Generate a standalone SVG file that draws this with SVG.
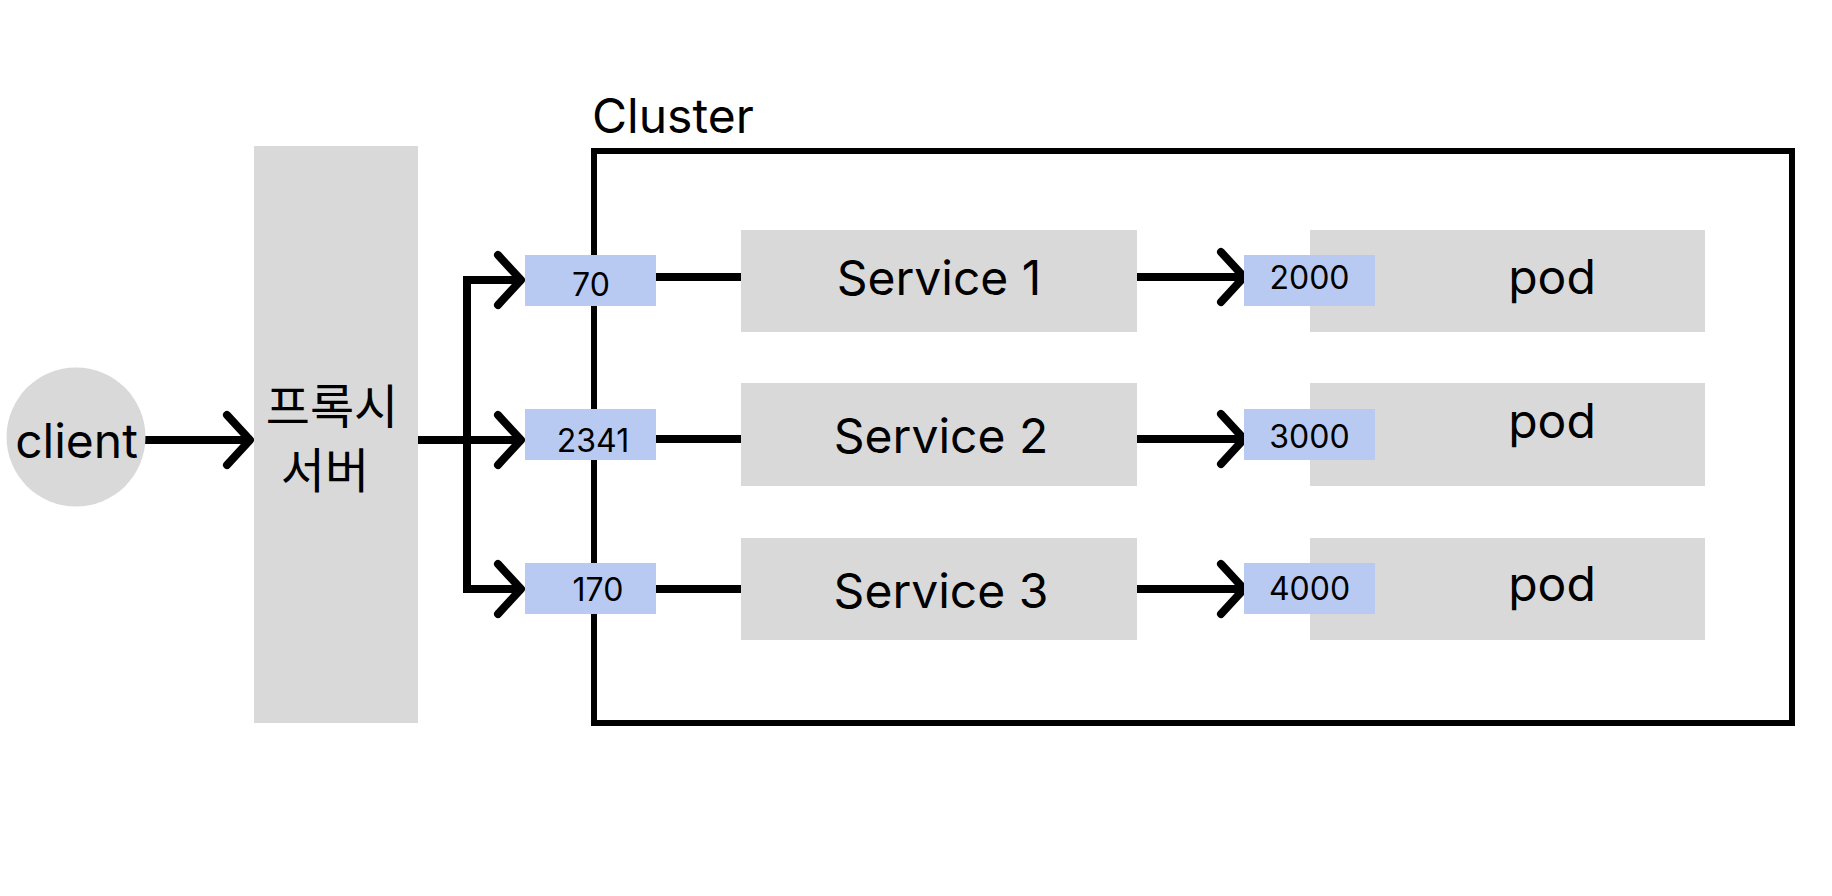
<svg xmlns="http://www.w3.org/2000/svg" width="1832" height="896" viewBox="0 0 1832 896">
  <style>
    .box { fill: #d9d9d9; }
    .port { fill: #b9caf2; }
    .lbl { font-family: Inter, "Noto Sans", "Noto Sans CJK KR", sans-serif; font-size: 48px; fill: #000; text-anchor: middle; }
    .kr { font-family: "Noto Sans CJK KR", "Noto Sans", sans-serif; font-size: 48px; fill: #000; text-anchor: middle; }
    .num { font-family: Inter, "Noto Sans", sans-serif; font-size: 32px; fill: #000; text-anchor: middle; }
    .edge { fill: none; stroke: #000; stroke-width: 8; }
    .frame { fill: none; stroke: #000; stroke-width: 6; }
  </style>
  <defs>
    <marker id="chev" markerUnits="userSpaceOnUse" viewBox="-34 -34 44 68" markerWidth="44" markerHeight="68" refX="0" refY="0" orient="auto" overflow="visible">
      <path d="M -23 -25 L 0 0 L -23 25" fill="none" stroke="#000" stroke-width="8" stroke-linecap="round" stroke-linejoin="round"/>
    </marker>
  </defs>

  <rect width="1832" height="896" fill="#fff"/>

  <g id="cluster">
    <rect class="frame" x="594" y="151" width="1198" height="572"/>
    <text x="592" y="133" font-family="Inter, 'Noto Sans', sans-serif" font-size="48" fill="#000">Cluster</text>
  </g>

  <g id="connectors">
    <line class="edge" x1="145" y1="440" x2="250" y2="440" marker-end="url(#chev)"/>
    <line class="edge" x1="418" y1="440" x2="521" y2="440" marker-end="url(#chev)"/>
    <path class="edge" d="M 521 280 L 467 280 L 467 589 L 521 589"/>
    <line class="edge" x1="467" y1="280" x2="521" y2="280" marker-end="url(#chev)"/>
    <line class="edge" x1="467" y1="589" x2="521" y2="589" marker-end="url(#chev)"/>
    <line class="edge" x1="650" y1="277" x2="741" y2="277"/>
    <line class="edge" x1="650" y1="439" x2="741" y2="439"/>
    <line class="edge" x1="650" y1="589" x2="741" y2="589"/>
    <line class="edge" x1="1137" y1="277" x2="1244" y2="277" marker-end="url(#chev)"/>
    <line class="edge" x1="1137" y1="439" x2="1244" y2="439" marker-end="url(#chev)"/>
    <line class="edge" x1="1137" y1="589" x2="1244" y2="589" marker-end="url(#chev)"/>
  </g>

  <g id="client">
    <circle class="box" cx="76" cy="437" r="69.5"/>
    <text class="lbl" x="76.5" y="458">client</text>
  </g>

  <g id="proxy">
    <rect class="box" x="254" y="146" width="164" height="577"/>
    <text class="kr" x="332" y="424">프록시</text>
    <text class="kr" x="325" y="488">서버</text>
  </g>

  <g id="port-70">
    <rect class="port" x="525" y="255" width="131" height="51"/>
    <text class="num" x="591" y="296">70</text>
  </g>
  <g id="port-2341">
    <rect class="port" x="525" y="409" width="131" height="51"/>
    <text class="num" x="593" y="452">2341</text>
  </g>
  <g id="port-170">
    <rect class="port" x="525" y="563" width="131" height="51"/>
    <text class="num" x="598" y="601">170</text>
  </g>

  <g id="service-1">
    <rect class="box" x="741" y="230" width="396" height="102"/>
    <text class="lbl" x="939" y="295">Service 1</text>
  </g>
  <g id="service-2">
    <rect class="box" x="741" y="383" width="396" height="103"/>
    <text class="lbl" x="941" y="453">Service 2</text>
  </g>
  <g id="service-3">
    <rect class="box" x="741" y="538" width="396" height="102"/>
    <text class="lbl" x="941" y="608">Service 3</text>
  </g>

  <g id="pod-1">
    <rect class="box" x="1310" y="230" width="395" height="102"/>
    <text class="lbl" x="1552" y="294">pod</text>
  </g>
  <g id="pod-2">
    <rect class="box" x="1310" y="383" width="395" height="103"/>
    <text class="lbl" x="1552" y="438">pod</text>
  </g>
  <g id="pod-3">
    <rect class="box" x="1310" y="538" width="395" height="102"/>
    <text class="lbl" x="1552" y="601">pod</text>
  </g>

  <g id="port-2000">
    <rect class="port" x="1244" y="255" width="131" height="51"/>
    <text class="num" x="1309.5" y="289">2000</text>
  </g>
  <g id="port-3000">
    <rect class="port" x="1244" y="409" width="131" height="51"/>
    <text class="num" x="1309.5" y="448">3000</text>
  </g>
  <g id="port-4000">
    <rect class="port" x="1244" y="563" width="131" height="51"/>
    <text class="num" x="1309.5" y="600">4000</text>
  </g>
</svg>
